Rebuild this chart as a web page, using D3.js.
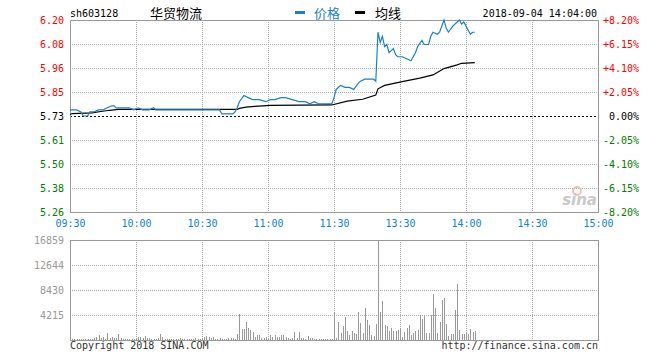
<!DOCTYPE html>
<html>
<head>
<meta charset="utf-8">
<script src="https://cdn.jsdelivr.net/npm/d3@7"></script>
<style>
  body { margin: 0; background: #fff; }
  svg { display: block; font-family: 'DejaVu Sans Mono', monospace; }
</style>
</head>
<body>
<svg width="660" height="360"></svg>
<script>
// header
const code = 'sh603128';
const name = '华贸物流';
const stamp = '2018-09-04 14:04:00';
const prevClose = 5.73;

// axis labels
const pctTicks = [8.2, 6.15, 4.1, 2.05, 0, -2.05, -4.1, -6.15, -8.2];
const priceLabels = ['6.20', '6.08', '5.96', '5.85', '5.73', '5.61', '5.50', '5.38', '5.26'];
const timeTicks = [0, 30, 60, 90, 120, 150, 180, 210, 240];
const timeLabels = ['09:30', '10:00', '10:30', '11:00', '11:30', '13:30', '14:00', '14:30', '15:00'];
const volTicks = [16859, 12644, 8430, 4215];

// price line, [minute index, price]
const priceData = [
  [0, 5.76], [3, 5.76], [5, 5.75], [6, 5.73], [8, 5.73], [9, 5.75], [11, 5.75],
  [13, 5.76], [15, 5.76], [17, 5.77], [19, 5.78], [20, 5.78], [21, 5.77], [23, 5.77],
  [25, 5.77], [27, 5.77], [29, 5.76], [31, 5.77], [33, 5.76], [36, 5.76], [38, 5.77],
  [39, 5.76], [48, 5.76], [55, 5.76], [68, 5.76], [69, 5.74], [74, 5.74], [75, 5.75],
  [76, 5.77], [77, 5.80], [79, 5.83], [81, 5.82], [83, 5.81], [84, 5.81], [86, 5.81],
  [89, 5.80], [91, 5.81], [93, 5.81], [96, 5.82], [98, 5.82], [101, 5.81], [104, 5.80],
  [107, 5.80], [109, 5.79], [111, 5.80], [113, 5.79], [119, 5.79], [120, 5.82],
  [121, 5.86], [123, 5.88], [125, 5.87], [127, 5.87], [129, 5.86], [131, 5.89],
  [132, 5.90], [134, 5.91], [138, 5.91], [139, 5.90], [140, 6.14], [141, 6.09],
  [142, 6.12], [143, 6.07], [144, 6.08], [145, 6.04], [146, 6.05], [147, 6.06],
  [148, 6.03], [149, 6.02], [151, 6.02], [153, 6.01], [155, 6.00], [157, 6.04],
  [158, 6.07], [160, 6.10], [161, 6.08], [163, 6.08], [164, 6.12], [165, 6.14],
  [167, 6.13], [168, 6.14], [170, 6.20], [171, 6.16], [172, 6.14], [174, 6.17],
  [176, 6.19], [177, 6.20], [178, 6.18], [179, 6.19], [180, 6.17], [182, 6.13],
  [183, 6.14], [184, 6.14]
];

// average price line
const avgData = [
  [0, 5.737], [1, 5.742], [10, 5.745], [14, 5.752], [18, 5.758], [22, 5.762],
  [76, 5.762], [77, 5.767], [80, 5.773], [84, 5.777], [91, 5.782], [119, 5.784],
  [126, 5.803], [133, 5.812], [139, 5.833], [140, 5.863], [143, 5.880], [151, 5.898],
  [159, 5.915], [165, 5.931], [170, 5.962], [176, 5.980], [178, 5.988], [184, 5.991]
];

// volume per minute, 09:30 onwards
const volumes = [
  340, 250, 250, 170, 250, 170, 250, 170, 170, 250,
  250, 420, 590, 840, 420, 590, 250, 1180, 340, 510,
  420, 340, 1010, 340, 250, 170, 250, 170, 170, 170, 250,
  510, 590, 420, 670, 340, 420, 250, 170, 250, 340,
  930, 510, 250, 170, 250, 170, 170, 250, 170, 340,
  170, 170, 250, 170, 250, 170, 420, 170, 170, 250,
  510, 670, 590, 340, 510, 250, 170, 420, 250, 170,
  250, 340, 340, 340, 250,
  1010, 4380, 1800, 1850, 3090, 2070, 1690, 1300, 560, 840, 840,
  290, 390, 560, 290, 840, 560, 840, 560, 560, 840, 840, 560, 390, 220,
  290, 1300, 290, 1300, 290, 290, 170, 670, 390, 290,
  170, 170, 250, 170, 170, 170, 170, 170, 170,
  4720, 390, 3030, 1230, 2360, 3880, 1520, 890, 1520, 1230,
  1060, 4720, 2870, 1230, 5400, 3370, 2530, 890, 670, 2700,
  16859, 4720, 6580, 2530, 2360, 1520, 2020, 1520, 1520, 1690,
  1850, 560, 1350, 2020, 2530, 890, 1230, 1520, 1690, 4160,
  3490, 4050, 1230, 1230, 4160, 7760, 5400, 1230, 3030, 6740,
  7130, 2700, 670, 1010, 1010, 5060, 9440, 1690, 1010, 1010,
  1230, 1010, 1850, 1350, 1520
];

const svg = d3.select('svg');

const left = 70;
const right = 598;
const priceTop = 20;
const priceBottom = 212;
const volTop = 240;
const volBottom = 340;

const x = d3.scaleLinear().domain([0, 240]).range([left, right]);
const y = d3.scaleLinear().domain([-8.2, 8.2]).range([priceBottom, priceTop]);
const yVol = d3.scaleLinear().domain([0, 16859]).range([volBottom, volTop]);

function pct(p) {
  return (p / prevClose - 1) * 100;
}

function signColor(v) {
  if (v > 0) return '#f00';
  if (v < 0) return '#008000';
  return '#000';
}

const crisp = v => Math.round(v) + 0.5;

// grids
function drawGrid(top, bottom, rows) {
  const g = svg.append('g')
    .attr('stroke', '#aaa')
    .attr('stroke-dasharray', '1,1')
    .attr('shape-rendering', 'crispEdges');
  g.selectAll('line.v')
    .data(timeTicks.slice(1, -1))
    .enter()
    .append('line')
    .attr('x1', d => crisp(x(d)))
    .attr('x2', d => crisp(x(d)))
    .attr('y1', top)
    .attr('y2', bottom);
  g.selectAll('line.h')
    .data(rows)
    .enter()
    .append('line')
    .attr('x1', left)
    .attr('x2', right)
    .attr('y1', d => crisp(d))
    .attr('y2', d => crisp(d));
}

drawGrid(priceTop, priceBottom, pctTicks.filter(d => d !== 0 && Math.abs(d) !== 8.2).map(y));
drawGrid(volTop, volBottom, volTicks.slice(1).map(yVol));

// zero line
svg.append('line')
  .attr('x1', left)
  .attr('x2', right)
  .attr('y1', crisp(y(0)))
  .attr('y2', crisp(y(0)))
  .attr('stroke', '#000')
  .attr('stroke-dasharray', '2,2')
  .attr('shape-rendering', 'crispEdges');

// frames
[[priceTop, priceBottom], [volTop, volBottom]].forEach(([t, b]) => {
  svg.append('rect')
    .attr('x', left + 0.5)
    .attr('y', t + 0.5)
    .attr('width', right - left)
    .attr('height', b - t)
    .attr('fill', 'none')
    .attr('stroke', '#999')
    .attr('shape-rendering', 'crispEdges');
});

// sina mark
const logo = svg.append('g').attr('opacity', 0.9);
logo.append('circle')
  .attr('cx', 577)
  .attr('cy', 191)
  .attr('r', 4)
  .attr('fill', 'none')
  .attr('stroke', '#f5b5b5')
  .attr('stroke-width', 2);
logo.append('text')
  .attr('x', 597)
  .attr('y', 205)
  .attr('text-anchor', 'end')
  .attr('font-family', 'DejaVu Sans')
  .attr('font-size', 15)
  .attr('font-style', 'italic')
  .attr('font-weight', 'bold')
  .attr('fill', '#c4c4c4')
  .text('sina');

// volume bars
svg.append('g')
  .attr('stroke', '#999')
  .attr('shape-rendering', 'crispEdges')
  .selectAll('line')
  .data(volumes)
  .enter()
  .append('line')
  .attr('x1', (d, i) => crisp(x(i)))
  .attr('x2', (d, i) => crisp(x(i)))
  .attr('y1', yVol(0))
  .attr('y2', d => yVol(d));

// lines
const line = d3.line()
  .x(d => x(d[0]))
  .y(d => y(pct(d[1])));

svg.append('path')
  .datum(avgData)
  .attr('d', line)
  .attr('fill', 'none')
  .attr('stroke', '#000')
  .attr('stroke-width', 1.2);

svg.append('path')
  .datum(priceData)
  .attr('d', line)
  .attr('fill', 'none')
  .attr('stroke', '#1a80cc')
  .attr('stroke-width', 1.2);

// axes
function styleAxis(g) {
  g.select('.domain').remove();
  g.selectAll('text').attr('font-family', 'DejaVu Sans Mono').attr('font-size', 10);
}

svg.append('g')
  .attr('transform', `translate(${left},0)`)
  .call(d3.axisLeft(y).tickValues(pctTicks).tickSize(0).tickPadding(6)
    .tickFormat((d, i) => priceLabels[i]))
  .call(styleAxis)
  .selectAll('text')
  .attr('fill', d => signColor(d));

svg.append('g')
  .attr('transform', `translate(${right},0)`)
  .call(d3.axisRight(y).tickValues(pctTicks).tickSize(0).tickPadding(5)
    .tickFormat(d => (d > 0 ? '+' : '') + d.toFixed(2) + '%'))
  .call(styleAxis)
  .selectAll('text')
  .attr('fill', d => signColor(d))
  .attr('x', d => (d === 0 ? 11 : 5));

svg.append('g')
  .attr('transform', `translate(0,${priceBottom})`)
  .call(d3.axisBottom(x).tickValues(timeTicks).tickSize(0).tickPadding(8)
    .tickFormat((d, i) => timeLabels[i]))
  .call(styleAxis)
  .selectAll('text')
  .attr('fill', '#0a84d4');

svg.append('g')
  .attr('transform', `translate(${left},0)`)
  .call(d3.axisLeft(yVol).tickValues(volTicks).tickSize(0).tickPadding(6)
    .tickFormat(d3.format('d')))
  .call(styleAxis)
  .selectAll('text')
  .attr('fill', '#999');

// header
const header = svg.append('g').attr('font-size', 10).attr('fill', '#000');
header.append('text').attr('x', 70).attr('y', 17).text(code);
header.append('text')
  .attr('x', 150)
  .attr('y', 18)
  .attr('font-family', 'Noto Sans CJK SC')
  .attr('font-size', 13)
  .text(name);

header.append('rect').attr('x', 295).attr('y', 11).attr('width', 10).attr('height', 3).attr('fill', '#1a80cc');
header.append('text')
  .attr('x', 314)
  .attr('y', 18)
  .attr('font-family', 'Noto Sans CJK SC')
  .attr('font-size', 13)
  .attr('fill', '#1a80cc')
  .text('价格');
header.append('rect').attr('x', 355).attr('y', 11).attr('width', 10).attr('height', 3).attr('fill', '#000');
header.append('text')
  .attr('x', 375)
  .attr('y', 18)
  .attr('font-family', 'Noto Sans CJK SC')
  .attr('font-size', 13)
  .text('均线');
header.append('text')
  .attr('x', 597)
  .attr('y', 17)
  .attr('text-anchor', 'end')
  .text(stamp);

// footer
svg.append('text')
  .attr('x', 70)
  .attr('y', 349)
  .attr('font-size', 10)
  .attr('fill', '#333')
  .text('Copyright 2018 SINA.COM');
svg.append('text')
  .attr('x', 598)
  .attr('y', 349)
  .attr('text-anchor', 'end')
  .attr('font-size', 10)
  .attr('fill', '#333')
  .text('http://finance.sina.com.cn');
</script>
</body>
</html>
